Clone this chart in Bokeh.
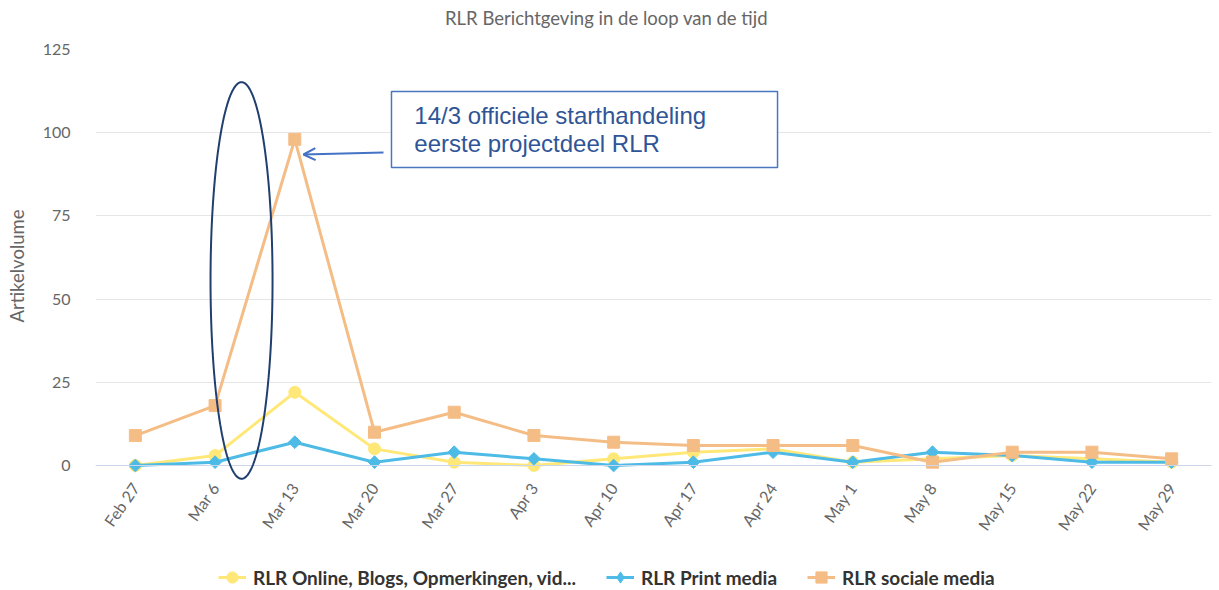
import numpy as np
from bokeh.plotting import figure
from bokeh.layouts import column
from bokeh.models import (Range1d, FixedTicker, Legend, LegendItem, Label, BoxAnnotation,
                          Arrow, OpenHead, PolyAnnotation, Span)
from bokeh.embed import file_html
from bokeh.resources import INLINE

# ---- data ----
dates = ["Feb 27", "Mar 6", "Mar 13", "Mar 20", "Mar 27", "Apr 3", "Apr 10",
         "Apr 17", "Apr 24", "May 1", "May 8", "May 15", "May 22", "May 29"]
online = [0, 3, 22, 5, 1, 0, 2, 4, 5, 1, 2, 3, 2, 1]
print_media = [0, 1, 7, 1, 4, 2, 0, 1, 4, 1, 4, 3, 1, 1]
social = [9, 18, 98, 10, 16, 9, 7, 6, 6, 6, 1, 4, 4, 2]
y_ticks = [0, 25, 50, 75, 100, 125]
series_names = ["RLR Online, Blogs, Opmerkingen, vid...", "RLR Print media", "RLR sociale media"]

title_text = "RLR Berichtgeving in de loop van de tijd"
note_lines = ["14/3 officiele starthandeling", "eerste projectdeel RLR"]

FONT = "Lato"
x = list(range(len(dates)))
c_y, c_b, c_o = "#ffe878", "#4dbbe6", "#f5bd86"
FRAME_LEFT = 95  # frames of the stacked figures are aligned on the main chart's frame


def bare(height):
    f = figure(width=1219, height=height, output_backend="svg", toolbar_location=None,
               x_range=Range1d(1000, 1001), y_range=Range1d(1000, 1001),
               x_axis_location=None, y_axis_location=None,
               min_border=0, min_border_left=0, min_border_right=0,
               min_border_top=0, min_border_bottom=0)
    f.outline_line_color = None
    f.grid.visible = False
    return f


# ---- title strip ----
p0 = bare(40)
p0.add_layout(Label(x=606 - FRAME_LEFT, y=23, x_units="screen", y_units="screen", text=title_text,
                    text_align="center", text_baseline="middle", text_font=FONT,
                    text_font_size="18.5px", text_color="#666666"))

# ---- main chart ----
# y scale: 3.328 px per unit, frame extends 17 px below zero so the ellipse is not cut
Y_MIN = -17 / 3.328
p = figure(frame_width=1116, frame_height=433, output_backend="svg", toolbar_location=None,
           x_range=Range1d(-0.5, len(dates) - 0.5), y_range=Range1d(Y_MIN, 125),
           min_border_left=95, min_border_top=9, min_border_right=8, min_border_bottom=76)
p.outline_line_color = None
p.background_fill_color = "white"

p.xaxis.ticker = FixedTicker(ticks=x)
p.xaxis.major_label_overrides = {i: d for i, d in zip(x, dates)}
p.xaxis.major_label_orientation = 0.96
p.xaxis.axis_line_color = None
p.xaxis.major_tick_line_color = None
p.xaxis.minor_tick_line_color = None
p.xaxis.major_tick_out = 0
p.xaxis.major_tick_in = 0
p.xaxis.major_label_text_font = FONT
p.xaxis.major_label_text_font_size = "16px"
p.xaxis.major_label_text_color = "#666666"
p.xaxis.major_label_standoff = 2

p.yaxis.ticker = FixedTicker(ticks=y_ticks)
p.yaxis.axis_line_color = None
p.yaxis.major_tick_line_color = None
p.yaxis.minor_tick_line_color = None
p.yaxis.major_tick_out = 0
p.yaxis.major_tick_in = 0
p.yaxis.major_label_text_font = FONT
p.yaxis.major_label_text_font_size = "16px"
p.yaxis.major_label_text_color = "#666666"
p.yaxis.major_label_standoff = 25
p.yaxis.axis_label = "Artikelvolume"
p.yaxis.axis_label_text_font = FONT
p.yaxis.axis_label_text_font_size = "18.5px"
p.yaxis.axis_label_text_font_style = "normal"
p.yaxis.axis_label_text_color = "#666666"
p.yaxis.axis_label_standoff = 12

p.xgrid.grid_line_color = None
p.ygrid.grid_line_color = "#e6e6e6"
p.ygrid.ticker = FixedTicker(ticks=y_ticks)
p.add_layout(Span(location=0, dimension="width", line_color="#ccd6eb", line_width=1))


def draw_series(fig, blue_marker="square", blue_angle=np.pi / 4, blue_size=9):
    r = []
    r.append([fig.line(x, online, line_color=c_y, line_width=3),
              fig.scatter(x, online, marker="circle", size=12, fill_color=c_y, line_color=c_y)])
    r.append([fig.line(x, print_media, line_color=c_b, line_width=3),
              fig.scatter(x, print_media, marker=blue_marker, angle=blue_angle, size=blue_size,
                          fill_color=c_b, line_color=c_b)])
    r.append([fig.line(x, social, line_color=c_o, line_width=3),
              fig.scatter(x, social, marker="square", size=12, fill_color=c_o, line_color=c_o)])
    return r


draw_series(p)

# annotation box + text
p.add_layout(BoxAnnotation(left=3.213, right=8.056, bottom=89.54, top=112.38,
                           fill_color="white", fill_alpha=1, line_color="#4a76c0",
                           line_alpha=1, line_width=1.5, level="overlay"))
p.add_layout(Label(x=3.50, y=(465 - 115) / 3.328, text=note_lines[0], text_baseline="middle",
                   text_font="Liberation Sans", text_font_size="24px", text_color="#2f5597",
                   level="overlay"))
p.add_layout(Label(x=3.50, y=(465 - 143) / 3.328, text=note_lines[1], text_baseline="middle",
                   text_font="Liberation Sans", text_font_size="24px", text_color="#2f5597",
                   level="overlay"))

# arrow
p.add_layout(Arrow(end=OpenHead(size=12, line_color="#4472c4", line_width=2),
                   x_start=3.113, y_start=94.05, x_end=2.109, y_end=93.45,
                   line_color="#4472c4", line_width=2))

# ellipse highlight
t = np.linspace(0, 2 * np.pi, 160)
cx, cy, ax_, by_ = 1.332, 55.6, 0.389, 59.6
p.add_layout(PolyAnnotation(xs=list(cx + ax_ * np.cos(t)), ys=list(cy + by_ * np.sin(t)),
                            fill_alpha=0, line_color="#203f6e", line_alpha=1, line_width=2))

# ---- legend strip (series drawn outside its visible range, only the legend shows) ----
p2 = bare(32)
g = draw_series(p2, blue_marker="diamond", blue_angle=0, blue_size=12)
legend = Legend(items=[LegendItem(label=series_names[i], renderers=g[i]) for i in range(3)],
                orientation="horizontal", location=(218 - FRAME_LEFT, -2),
                glyph_width=28, glyph_height=30, label_standoff=7, spacing=30,
                padding=0, margin=0, border_line_color=None, background_fill_alpha=0,
                label_text_font=FONT, label_text_font_size="19px",
                label_text_font_style="bold", label_text_color="#333333")
p2.add_layout(legend, "center")

layout = column(p0, p, p2, spacing=0)
open("out.html", "w").write(file_html(layout, INLINE))
